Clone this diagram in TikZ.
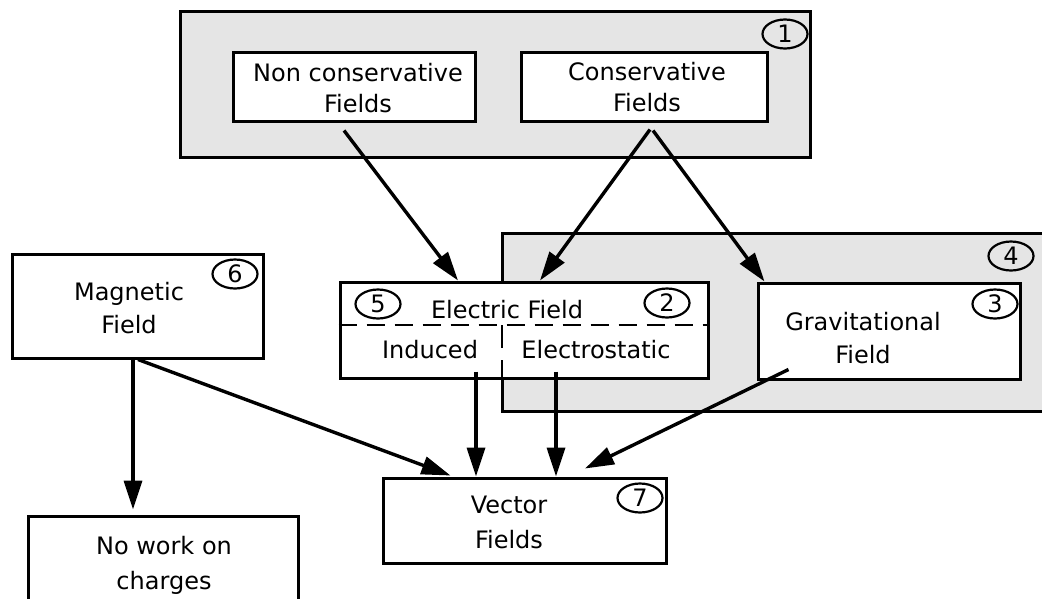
\documentclass[tikz,border=0pt]{standalone}
\usepackage{fontspec}
\setmainfont{DejaVu Sans}
\usetikzlibrary{arrows.meta,shapes.geometric,calc}
\definecolor{panelgray}{RGB}{229,229,229}
\tikzset{
  panel/.style={draw=black, line width=3pt, fill=panelgray, rectangle, inner sep=0pt},
  fieldbox/.style={draw=black, line width=3pt, fill=white, rectangle, inner sep=0pt},
  lbl/.style={inner sep=0pt, align=center, font=\fontsize{24}{33}\selectfont},
  numel/.style={draw=black, ellipse, line width=2.2pt, inner sep=0pt, minimum width=45pt, minimum height=29pt, font=\fontsize{24}{24}\selectfont},
  arr/.style={draw=black, line width=3.4pt, -{Triangle[length=29pt,width=18pt]}},
  divider/.style={draw=black, line width=2.8pt}
}
\begin{document}
\begin{tikzpicture}[x=1pt,y=-1pt]
\useasboundingbox (0,0) rectangle (1042,598);
% panels
\node[panel, minimum width=630pt, minimum height=146pt] (g1) at (495,84) {};
\node[panel, minimum width=560pt, minimum height=178pt] (g4) at (782,322) {};
% boxes
\node[fieldbox, minimum width=242pt, minimum height=69pt] (nc) at (354,86.5) {};
\node[fieldbox, minimum width=246pt, minimum height=69pt] (cons) at (644,86.5) {};
\node[fieldbox, minimum width=368pt, minimum height=96pt] (ef) at (524,330) {};
\node[fieldbox, minimum width=262pt, minimum height=96pt] (grav) at (889,331) {};
\node[fieldbox, minimum width=251pt, minimum height=104pt] (mag) at (137.5,306) {};
\node[fieldbox, minimum width=270pt, minimum height=104pt] (nowork) at (163,568) {};
\node[fieldbox, minimum width=283pt, minimum height=85pt] (vec) at (524.5,520.5) {};
% dividers in electric field box
\draw[divider, dash pattern=on 18pt off 10pt] (ef.west |- 0,325) -- (ef.east |- 0,325);
\draw[divider, dash pattern=on 23pt off 12pt] (502,325) -- (502,378);
% texts
\node[lbl, font=\fontsize{24}{31}\selectfont] (tnc) at (358,88) {Non conservative\\Fields};
\node[lbl, font=\fontsize{24}{31}\selectfont] (tcons) at (647,87.5) {Conservative\\Fields};
\node[lbl, anchor=base] (tef) at (507,318.5) {Electric Field};
\node[lbl, anchor=base] (tind) at (430,358.5) {Induced};
\node[lbl, anchor=base] (test) at (596,358.5) {Electrostatic};
\node[lbl] (tgrav) at (863,338) {Gravitational\\Field};
\node[lbl] (tmag) at (129,308.5) {Magnetic\\Field};
\node[lbl, font=\fontsize{24}{35}\selectfont] (tvec) at (509,522.5) {Vector\\Fields};
\node[lbl, font=\fontsize{24}{35}\selectfont] (tnw) at (164,565) {No work on\\charges};
% numbers
\node[numel] (n1) at (785,34) {1};
\node[numel] (n2) at (667,303) {2};
\node[numel] (n3) at (995,304) {3};
\node[numel] (n4) at (1011,256) {4};
\node[numel] (n5) at (378,304) {5};
\node[numel] (n6) at (235,274) {6};
\node[numel] (n7) at (640,498) {7};
% connectors
\draw[arr] ($(nc.south)+(-10,8)$) -- ($(ef.north)+(-66,0)$);
\draw[arr] ($(cons.south)+(6,7)$) -- ($(ef.north)+(16,0)$);
\draw[arr] ($(cons.south)+(9,8)$) -- ($(grav.north west)+(8,0)$);
\draw[arr] ($(ef.south)+(-48,-8)$) -- ($(vec.north)+(-48.5,0)$);
\draw[arr] ($(ef.south)+(32,-8)$) -- ($(vec.north)+(31.5,0)$);
\draw[arr] ($(grav.south west)+(32,-11)$) -- ($(vec.north)+(60.5,-8)$);
\draw[arr] ($(mag.south)+(0.5,0)$) -- ($(vec.north west)+(69,-1)$);
\draw[arr] ($(mag.south)+(-4.5,0)$) -- ($(nowork.north)+(-30,-5)$);
\end{tikzpicture}
\end{document}
